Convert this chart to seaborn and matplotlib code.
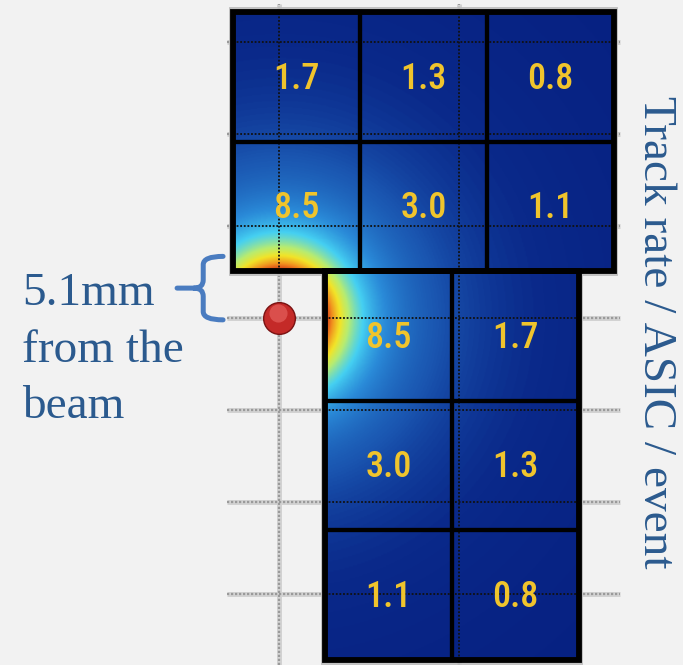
import numpy as np
import pandas as pd
import matplotlib
matplotlib.use("Agg")
import matplotlib.pyplot as plt
import seaborn as sns
from matplotlib.colors import LinearSegmentedColormap
from matplotlib.patches import Rectangle, PathPatch
from matplotlib.path import Path
from matplotlib import font_manager
from matplotlib.font_manager import FontProperties

# ---------------- data ----------------
top_rates = [[1.7, 1.3, 0.8],      # upper module, rows from top to bottom
             [8.5, 3.0, 1.1]]
bottom_rates = [[8.5, 1.7],        # lower module, rows from top to bottom
                [3.0, 1.3],
                [1.1, 0.8]]
asic_size = 14.08                  # mm
beam_gap = 5.1                     # mm, distance of sensors to the beam
grid_y = [30, 20, 10, 0, -10, -20, -30]
grid_x = [0, 20]
gap_label = ["5.1mm", "from the", "beam"]
axis_label = "Track rate / ASIC / event"
beam = pd.DataFrame({"x": [0.0], "y": [0.0]})

# ---------------- style ----------------
sns.set_theme(style="white")
BG = "#f2f2f2"
TXT = "#2b5a8e"
entries = font_manager.fontManager.ttflist
names = {f.name for f in entries}
label_fp = None
for cand in ["Liberation Sans Narrow", "Roboto Condensed", "Open Sans Condensed",
             "Noto Sans Condensed"]:
    if cand in names:
        label_fp = FontProperties(family=cand, size=26, weight="medium")
        break
if label_fp is None:
    cond = [f for f in entries if f.name == "DejaVu Sans" and "ondensed" in str(f.stretch)
            and f.weight in ("bold", 700)]
    if cond:
        label_fp = FontProperties(fname=cond[0].fname, size=24)
    else:
        cond = [f for f in entries if ("Condensed" in f.fname or "Narrow" in f.fname)
                and ("Medium" in f.fname or "SemiBold" in f.fname or "Bold" in f.fname)]
        if not cond:
            cond = [f for f in entries if "Condensed" in f.fname or "Narrow" in f.fname]
        if cond:
            label_fp = FontProperties(fname=cond[0].fname, size=26)
        else:
            label_fp = FontProperties(family="DejaVu Sans", size=22)
serif = ["Liberation Serif", "DejaVu Serif"]

cmap = LinearSegmentedColormap.from_list(
    "hit", [(0.00, "#051c7e"), (0.05, "#0a298a"), (0.12, "#1a55b0"),
            (0.24, "#2a8ad8"), (0.36, "#45d0f2"), (0.50, "#b8ec70"),
            (0.62, "#f2e428"), (0.80, "#f08a1e"), (1.00, "#cc2414")])

fig = plt.figure(figsize=(6.83, 6.65), dpi=100, facecolor=BG)
ax = fig.add_axes([0, 0, 1, 1])
ax.set_facecolor(BG)
ax.set_xlim(-30.93, 44.79)
ax.set_ylim(-37.72, 34.57)
ax.set_axis_off()

s = asic_size
modules = [
    dict(rates=top_rates, x0=-beam_gap, y1=beam_gap + len(top_rates) * s),
    dict(rates=bottom_rates, x0=beam_gap, y1=beam_gap),
]

# gray background grid (outside the sensors)
xmin_g, xmax_g = -beam_gap - 0.7, beam_gap + 2 * s + 4.6
for y in grid_y:
    ax.plot([xmin_g, xmax_g], [y, y], color="#d2d2d2", lw=3.6, zorder=1, solid_capstyle="butt")
    ax.plot([xmin_g, xmax_g], [y, y], color="#9a9a9a", lw=1.6, ls=(0, (1, 0.8)), zorder=1.1)
for x in grid_x:
    ax.plot([x, x], [-37.72, beam_gap + 2 * s + 0.9], color="#d2d2d2", lw=3.6, zorder=1,
            solid_capstyle="butt")
    ax.plot([x, x], [-37.72, beam_gap + 2 * s + 0.9], color="#9a9a9a", lw=1.6,
            ls=(0, (1, 0.8)), zorder=1.1)

for m in modules:
    rates = np.array(m["rates"])
    nr, nc = rates.shape
    x0, x1 = m["x0"], m["x0"] + nc * s
    y1 = m["y1"]
    y0 = y1 - nr * s
    # light frame around module
    ax.add_patch(Rectangle((x0 - 0.35, y0 - 0.45), x1 - x0 + 0.7, y1 - y0 + 0.9,
                           fill=False, ec="#bdbdbd", lw=1.3, zorder=2))
    # occupancy field
    xs = np.linspace(x0, x1, 300)
    ys = np.linspace(y0, y1, 300)
    X, Y = np.meshgrid(xs, ys)
    R = np.hypot(X, Y)
    F = np.clip((beam_gap / R) ** 1.7, 0, 1)
    ax.imshow(F, extent=(x0, x1, y0, y1), origin="lower", cmap=cmap, vmin=0, vmax=1,
              aspect="auto", interpolation="bilinear", zorder=3)
    # black dotted grid lines inside the module
    for x in grid_x:
        if x0 < x < x1:
            ax.plot([x, x], [y0, y1], color="#111111", lw=1.3, ls=(0, (1, 1)), zorder=4)
    for y in grid_y:
        if y0 < y < y1:
            ax.plot([x0, x1], [y, y], color="#111111", lw=1.3, ls=(0, (1, 1)), zorder=4)
    # ASIC cells and labels
    for i in range(nr):
        for j in range(nc):
            cx0 = x0 + j * s
            cy0 = y1 - (i + 1) * s
            ax.add_patch(Rectangle((cx0, cy0), s, s, fill=False, ec="black", lw=3.0, zorder=5))
            ax.text(cx0 + s / 2, cy0 + s / 2 - 0.2, f"{rates[i, j]:.1f}", ha="center",
                    va="center", color="#f0c42c", fontproperties=label_fp, zorder=6)
    ax.add_patch(Rectangle((x0, y0), x1 - x0, y1 - y0, fill=False, ec="black", lw=4.2, zorder=5.5))

# beam
sns.scatterplot(data=beam, x="x", y="y", s=520, color="#c42a28", edgecolor="#7a1212",
                linewidth=1.0, ax=ax, zorder=7, legend=False)
ax.scatter(beam["x"] - 0.15, beam["y"] + 0.55, s=170, color="#e4605c", alpha=0.7,
           linewidth=0, zorder=7.5)

# brace marking the gap
bx_end, bx_body, bx_tip = -6.2, -8.4, -11.3
by_top, by_bot = beam_gap + 1.6, -0.2
bmid = (by_top + by_bot) / 2
verts = [(bx_end, by_top), (bx_body, by_top), (bx_body, by_top - 0.9),
         (bx_body, bmid + 0.9), (bx_body, bmid), (bx_body - 1.0, bmid),
         (bx_tip, bmid),
         (bx_body - 1.0, bmid), (bx_body, bmid), (bx_body, bmid - 0.9),
         (bx_body, by_bot + 0.9), (bx_body, by_bot), (bx_end, by_bot)]
codes = [Path.MOVETO, Path.CURVE3, Path.CURVE3,
         Path.LINETO, Path.CURVE3, Path.CURVE3,
         Path.LINETO,
         Path.MOVETO, Path.CURVE3, Path.CURVE3,
         Path.LINETO, Path.CURVE3, Path.CURVE3]
ax.add_patch(PathPatch(Path(verts, codes), fill=False, ec="#4a7cc0", lw=3.6,
                       capstyle="round", joinstyle="round", zorder=6))

# texts
for line, y in zip(gap_label, [1.41, -4.78, -10.87]):
    ax.text(-28.5, y, line, ha="left", va="baseline", color=TXT, fontsize=34, family=serif)
ax.text(41.7, -1.5, axis_label, rotation=-90, ha="center", va="center", color=TXT,
        fontsize=34, family=serif)

fig.savefig("out.png", dpi=100, facecolor=BG)
